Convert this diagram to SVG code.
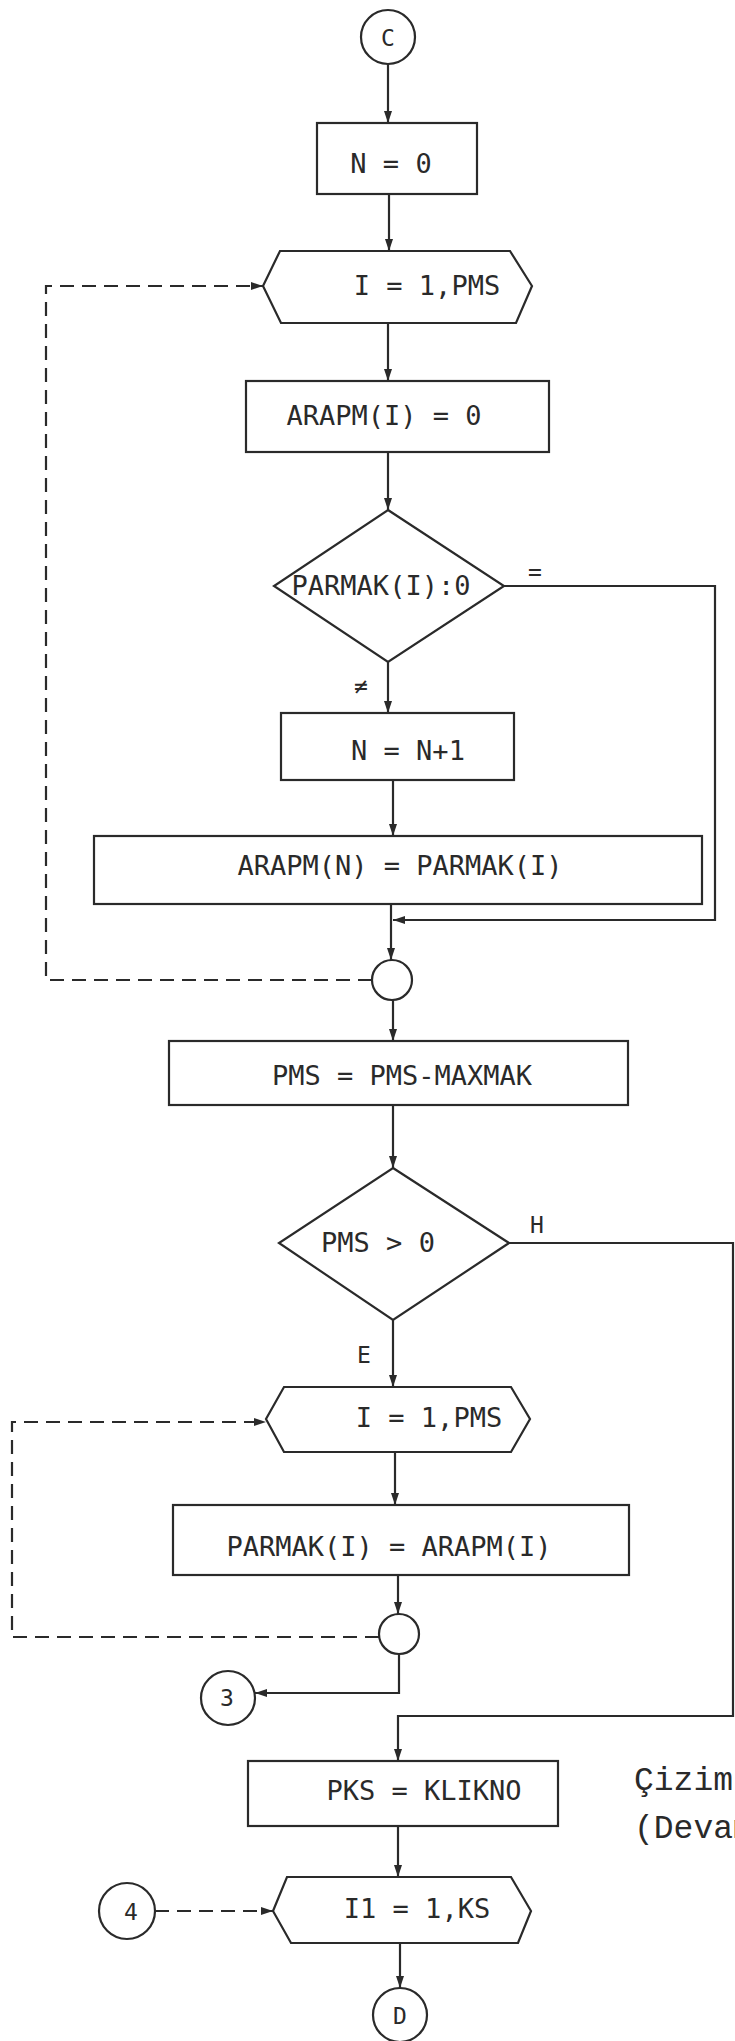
<svg xmlns="http://www.w3.org/2000/svg" width="735" height="2041" viewBox="0 0 735 2041">
<defs>
<marker id="arr" viewBox="0 0 12 8" refX="12" refY="4" markerWidth="12" markerHeight="8" markerUnits="userSpaceOnUse" orient="auto">
<path d="M0,0 L12,4 L0,8 z" fill="#2a2a2a"/>
</marker>
<style>
.s{fill:none;stroke:#2a2a2a;stroke-width:2.2;stroke-linejoin:miter}
.n{fill:#fff;stroke:#2a2a2a;stroke-width:2.2}
.d{fill:none;stroke:#2a2a2a;stroke-width:2.2;stroke-dasharray:14 8}
.t{font-family:"DejaVu Sans Mono","Liberation Mono",monospace;font-size:27px;fill:#2a2a2a;text-anchor:middle}
.l{font-family:"DejaVu Sans Mono","Liberation Mono",monospace;font-size:23px;fill:#2a2a2a;text-anchor:middle}
.c{font-family:"Liberation Mono","DejaVu Sans Mono",monospace;font-size:33px;fill:#2a2a2a}
</style>
</defs>
<rect width="735" height="2041" fill="#fff"/>
<g id="connectors">
<path class="s" d="M388,64 V123" marker-end="url(#arr)"/>
<path class="s" d="M389,194 V251" marker-end="url(#arr)"/>
<path class="s" d="M388,323 V381" marker-end="url(#arr)"/>
<path class="s" d="M388,452 V510" marker-end="url(#arr)"/>
<path class="s" d="M388,662 V713" marker-end="url(#arr)"/>
<path class="s" d="M393,780 V836" marker-end="url(#arr)"/>
<path class="s" d="M391,904 V960" marker-end="url(#arr)"/>
<path class="s" d="M504,586 H715 V920 H393" marker-end="url(#arr)"/>
<path class="s" d="M393,1000 V1041" marker-end="url(#arr)"/>
<path class="s" d="M393,1105 V1168" marker-end="url(#arr)"/>
<path class="s" d="M393,1320 V1387" marker-end="url(#arr)"/>
<path class="s" d="M395,1452 V1505" marker-end="url(#arr)"/>
<path class="s" d="M398,1575 V1614" marker-end="url(#arr)"/>
<path class="s" d="M399,1654 V1693 H255" marker-end="url(#arr)"/>
<path class="s" d="M509,1243 H733 V1716 H398 V1761" marker-end="url(#arr)"/>
<path class="s" d="M398,1826 V1877" marker-end="url(#arr)"/>
<path class="s" d="M400,1943 V1988" marker-end="url(#arr)"/>
<path class="d" d="M372,980 H46 V286 H263" marker-end="url(#arr)"/>
<path class="d" d="M379,1637 H12 V1422 H266" marker-end="url(#arr)"/>
<path class="d" d="M155,1911 H273" marker-end="url(#arr)"/>
</g>
<g id="startC">
<circle class="n" cx="388" cy="37" r="27"/>
<text class="l" x="388" y="46">C</text>
</g>
<g id="n0">
<rect class="n" x="317" y="123" width="160" height="71"/>
<text class="t" x="391" y="173" xml:space="preserve">N = 0</text>
</g>
<g id="loop1">
<polygon class="n" points="280,251 510,251 532,286 516,323 281,323 263,286"/>
<text class="t" x="427" y="295" xml:space="preserve">I = 1,PMS</text>
</g>
<g id="arapmI0">
<rect class="n" x="246" y="381" width="303" height="71"/>
<text class="t" x="384" y="425" xml:space="preserve">ARAPM(I) = 0</text>
</g>
<g id="dec1">
<polygon class="n" points="388,510 504,586 388,662 274,586"/>
<text class="t" x="381" y="595">PARMAK(I):0</text>
<text class="l" x="535" y="580">=</text>
<text class="l" x="361" y="694">≠</text>
</g>
<g id="nInc">
<rect class="n" x="281" y="713" width="233" height="67"/>
<text class="t" x="408" y="760" xml:space="preserve">N = N+1</text>
</g>
<g id="arapmN">
<rect class="n" x="94" y="836" width="608" height="68"/>
<text class="t" x="400" y="875" xml:space="preserve">ARAPM(N) = PARMAK(I)</text>
</g>
<g id="end1">
<circle class="n" cx="392" cy="980" r="20"/>
</g>
<g id="pms">
<rect class="n" x="169" y="1041" width="459" height="64"/>
<text class="t" x="402" y="1085" xml:space="preserve">PMS = PMS-MAXMAK</text>
</g>
<g id="dec2">
<polygon class="n" points="393,1168 509,1243 393,1320 279,1243"/>
<text class="t" x="378" y="1252" xml:space="preserve">PMS &gt; 0</text>
<text class="l" x="537" y="1233">H</text>
<text class="l" x="364" y="1363">E</text>
</g>
<g id="loop2">
<polygon class="n" points="284,1387 511,1387 530,1419 511,1452 284,1452 266,1419"/>
<text class="t" x="429" y="1427" xml:space="preserve">I = 1,PMS</text>
</g>
<g id="parmakI">
<rect class="n" x="173" y="1505" width="456" height="70"/>
<text class="t" x="389" y="1556" xml:space="preserve">PARMAK(I) = ARAPM(I)</text>
</g>
<g id="end2">
<circle class="n" cx="399" cy="1634" r="20"/>
</g>
<g id="c3">
<circle class="n" cx="228" cy="1698" r="27"/>
<text class="l" x="227" y="1706">3</text>
</g>
<g id="pks">
<rect class="n" x="248" y="1761" width="310" height="65"/>
<text class="t" x="424" y="1800" xml:space="preserve">PKS = KLIKNO</text>
</g>
<g id="caption">
<text class="c" x="634" y="1790">Çizim</text>
<text class="c" x="634" y="1838">(Devam</text>
</g>
<g id="c4">
<circle class="n" cx="127" cy="1911" r="28"/>
<text class="l" x="131" y="1920">4</text>
</g>
<g id="loop3">
<polygon class="n" points="287,1877 511,1877 531,1911 518,1943 291,1943 273,1911"/>
<text class="t" x="417" y="1918" xml:space="preserve">I1 = 1,KS</text>
</g>
<g id="endD">
<circle class="n" cx="400" cy="2015" r="27"/>
<text class="l" x="400" y="2024">D</text>
</g>
</svg>
